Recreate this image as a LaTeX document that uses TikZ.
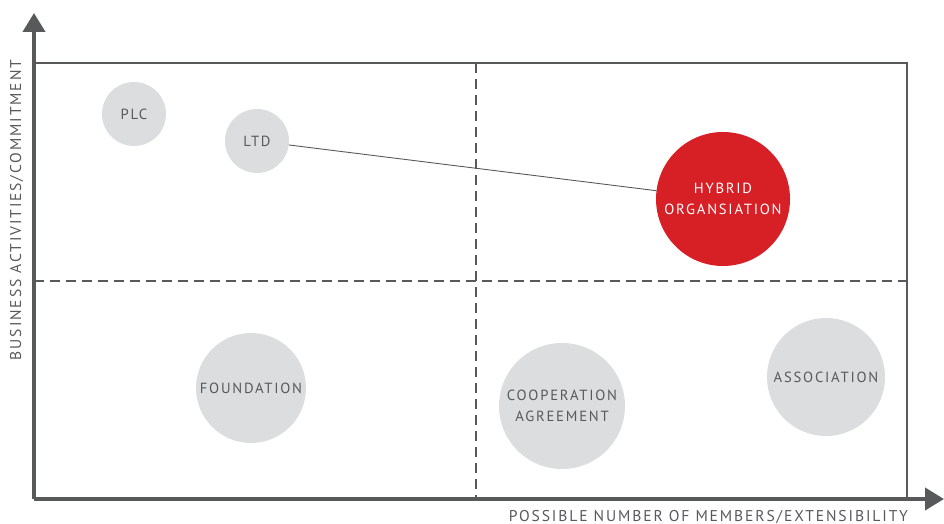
\documentclass[tikz,border=0pt]{standalone}
\usepackage{fontspec}
\setmainfont{PT Sans}[LetterSpace=12]
\usetikzlibrary{arrows.meta}
\definecolor{axisgray}{HTML}{58595B}
\definecolor{bubble}{HTML}{DCDDDE}
\definecolor{hybridred}{HTML}{D71F26}
\tikzset{
  bub/.style={circle, fill=bubble, text=axisgray, inner sep=0pt, align=center, font=\fontsize{14.7}{21}\selectfont},
  lbl/.style={text=axisgray, font=\fontsize{15.6}{18}\selectfont, inner sep=0pt},
  axisline/.style={draw=axisgray, line width=4pt, -{Triangle[length=19pt,width=22pt]}},
  frame/.style={draw=axisgray, line width=1.3pt},
  dashline/.style={draw=axisgray, line width=1.3pt, dash pattern=on 10pt off 6pt}
}
\begin{document}
\begin{tikzpicture}[x=1pt,y=-1pt]
\useasboundingbox (0,0) rectangle (944,524);
\coordinate (O) at (34,499);
\coordinate (ytip) at (34,13);
\coordinate (xtip) at (944,499);
\coordinate (tl) at (34,63);
\coordinate (tr) at (907,63);
\coordinate (br) at (907,499);
\coordinate (hl) at (34,281);
\coordinate (hr) at (907,281);
\coordinate (vt) at (476,63);
\coordinate (vb) at (476,499);
\draw[frame] (tl) -- (tr) -- (br);
\draw[dashline] (hl) -- (hr);
\draw[dashline] (vt) -- (vb);
\draw[axisline] (O) -- (ytip);
\draw[axisline] (O) -- (xtip);
\node[bub, minimum size=64pt] (plc) at (134,114) {PLC};
\node[bub, minimum size=64pt] (ltd) at (257,141) {LTD};
\node[bub, minimum size=134pt, fill=hybridred, text=white] (hyb) at (723,199) {HYBRID\\ORGANSIATION};
\node[bub, minimum size=110pt] (fnd) at (251,388) {FOUNDATION};
\node[bub, minimum size=126pt] (coop) at (562,406) {COOPERATION\\AGREEMENT};
\node[bub, minimum size=118pt] (assoc) at (826,377) {ASSOCIATION};
\draw[axisgray, line width=0.9pt] (ltd) -- (hyb);
\node[lbl, anchor=base east] (xl) at (908,521) {POSSIBLE NUMBER OF MEMBERS/EXTENSIBILITY};
\node[lbl, rotate=90, anchor=base] (yl) at (21,210) {BUSINESS ACTIVITIES/COMMITMENT};
\end{tikzpicture}
\end{document}
